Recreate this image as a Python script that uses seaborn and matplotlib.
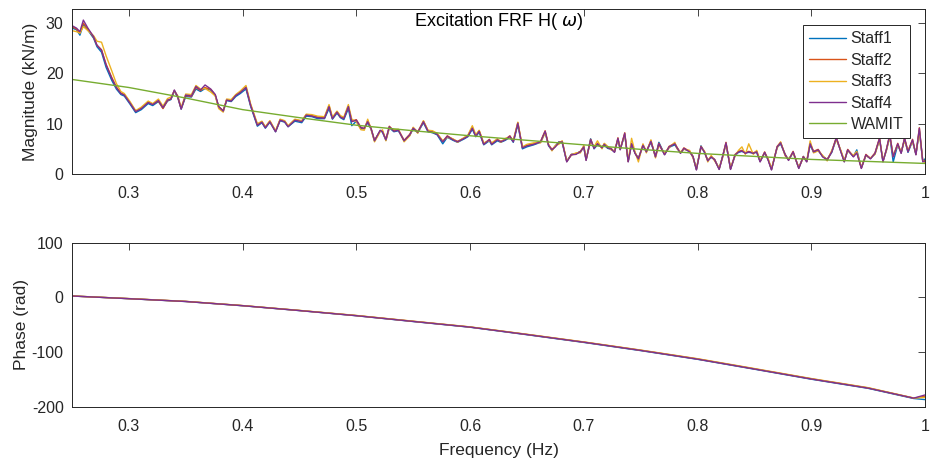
import numpy as np
import pandas as pd
import matplotlib
matplotlib.use("Agg")
import matplotlib.pyplot as plt
from matplotlib.lines import Line2D
import seaborn as sns

# ---------------- data ----------------
freq = [0.250,0.254,0.257,0.260,0.264,0.269,0.272,0.276,0.280,0.285,
        0.289,0.293,0.296,0.301,0.306,0.311,0.317,0.321,0.326,0.330,
        0.334,0.337,0.340,0.343,0.346,0.350,0.355,0.359,0.363,0.367,
        0.372,0.376,0.379,0.383,0.386,0.390,0.394,0.398,0.403,0.407,
        0.413,0.417,0.420,0.424,0.429,0.433,0.437,0.440,0.446,0.452,
        0.456,0.461,0.466,0.472,0.476,0.479,0.483,0.486,0.489,0.493,
        0.496,0.500,0.504,0.507,0.510,0.513,0.516,0.521,0.523,0.526,
        0.529,0.533,0.537,0.542,0.547,0.550,0.554,0.559,0.563,0.567,
        0.571,0.576,0.580,0.585,0.589,0.595,0.598,0.602,0.605,0.608,
        0.612,0.617,0.619,0.624,0.627,0.631,0.635,0.638,0.642,0.646,
        0.650,0.656,0.662,0.666,0.669,0.672,0.675,0.678,0.681,0.685,
        0.689,0.693,0.697,0.700,0.702,0.706,0.709,0.712,0.716,0.718,
        0.721,0.724,0.727,0.730,0.732,0.736,0.739,0.742,0.745,0.748,
        0.752,0.755,0.759,0.763,0.766,0.771,0.775,0.780,0.782,0.785,
        0.788,0.793,0.796,0.799,0.803,0.806,0.809,0.812,0.815,0.819,
        0.822,0.825,0.829,0.833,0.836,0.839,0.842,0.845,0.849,0.852,
        0.855,0.859,0.862,0.865,0.870,0.873,0.877,0.880,0.884,0.889,
        0.893,0.896,0.899,0.902,0.906,0.910,0.914,0.918,0.922,0.926,
        0.929,0.932,0.937,0.940,0.944,0.948,0.952,0.956,0.960,0.963,
        0.966,0.969,0.972,0.976,0.979,0.982,0.985,0.989,0.992,0.995,
        0.998,1.000]

staff1_mag = [29.0,28.7,27.6,29.8,28.6,27.0,25.3,24.2,21.2,18.6,
              16.9,15.8,15.5,13.9,12.2,12.8,14.0,13.6,14.4,13.1,
              14.5,14.8,16.5,15.2,12.9,15.4,15.3,16.9,16.4,17.0,
              16.7,15.6,13.3,12.5,14.6,14.4,15.4,16.0,16.9,13.5,
              9.5,10.2,9.1,10.3,8.4,10.6,10.3,9.4,10.5,10.2,
              11.5,11.4,11.0,11.0,13.0,10.9,12.1,11.2,10.8,13.0,
              9.6,10.5,9.0,9.0,10.2,8.9,6.6,8.6,8.3,6.7,
              9.2,8.4,8.6,6.6,7.7,9.0,8.2,10.2,8.4,8.2,
              7.8,6.0,7.3,6.7,6.3,7.0,7.4,8.9,7.4,8.3,
              5.8,6.6,5.8,6.6,6.3,6.7,7.3,6.3,9.8,5.0,
              5.4,5.8,6.3,8.3,5.6,4.7,5.6,6.4,6.2,2.5,
              3.9,4.0,4.5,5.3,2.8,7.0,5.0,5.8,5.3,5.7,
              5.1,4.9,4.4,6.9,4.9,7.8,2.5,5.9,4.2,3.1,
              5.6,4.5,6.3,3.5,6.3,3.9,5.3,5.8,5.1,4.2,
              5.0,4.5,3.5,0.9,5.6,4.3,2.7,3.3,2.9,1.0,
              3.5,6.0,1.0,3.7,4.3,4.5,4.2,4.3,4.2,4.3,
              2.5,4.2,2.9,0.9,5.3,6.0,3.9,2.8,4.3,1.2,
              3.5,2.5,5.8,4.3,4.7,3.5,2.9,4.3,7.0,4.5,
              2.5,4.7,3.5,4.8,1.2,3.7,3.1,4.0,6.9,2.5,
              4.7,7.5,2.4,5.8,4.2,6.9,4.3,6.5,3.9,8.6,
              2.6,3.0]

staff2_mag = [29.3,28.8,28.0,30.0,28.8,27.2,25.6,24.7,21.8,19.2,
              17.3,16.1,15.8,14.2,12.5,13.1,14.3,13.9,14.5,13.0,
              14.6,14.9,16.6,15.3,13.0,15.6,15.4,17.2,16.6,17.2,
              16.8,15.7,13.4,12.6,14.8,14.6,15.7,16.3,17.3,13.8,
              9.8,10.4,9.3,10.5,8.5,10.8,10.5,9.5,10.8,10.5,
              11.8,11.6,11.3,11.2,13.6,11.1,12.4,11.4,11.1,13.5,
              10.5,10.8,9.3,9.0,10.6,9.1,6.7,8.6,8.5,6.9,
              9.5,8.6,8.8,6.7,7.9,9.2,8.4,10.5,8.6,8.4,
              8.0,6.5,7.6,6.9,6.5,7.2,7.6,9.3,7.6,8.6,
              6.0,6.9,6.0,6.9,6.5,6.9,7.6,6.5,10.2,5.3,
              5.7,6.0,6.5,8.6,5.8,4.9,5.5,6.3,6.5,2.5,
              3.9,4.0,4.5,5.5,2.8,6.9,5.2,6.1,5.3,6.0,
              5.3,5.1,4.4,7.2,4.9,8.2,2.5,6.1,4.2,3.1,
              5.8,4.5,6.6,3.5,6.1,3.9,5.5,6.1,5.3,4.2,
              5.2,4.5,3.5,0.9,5.5,4.5,2.7,3.5,2.9,1.0,
              3.5,6.3,1.0,3.9,4.5,4.7,4.2,4.5,4.2,4.5,
              2.5,4.4,2.9,0.9,5.5,6.3,3.9,2.8,4.5,1.2,
              3.5,2.5,6.1,4.5,4.9,3.5,2.9,4.5,7.3,4.5,
              2.5,4.9,3.5,4.3,1.2,3.9,3.1,4.2,7.2,2.5,
              4.9,7.9,3.5,6.1,4.2,7.2,4.5,6.9,3.9,9.2,
              2.5,2.7]

staff3_mag = [28.5,28.3,28.0,29.3,28.5,27.5,26.4,26.2,23.5,20.5,
              18.0,16.4,16.0,14.4,12.6,13.3,14.5,14.0,14.9,13.5,
              15.0,15.3,16.5,15.6,13.2,15.9,15.8,17.6,16.9,17.0,
              16.3,15.5,13.0,12.3,14.9,14.8,15.8,16.5,17.6,14.0,
              10.0,10.5,9.4,10.6,8.6,10.9,10.6,9.6,10.9,10.6,
              11.9,11.8,11.5,11.4,13.8,11.3,12.5,11.6,11.3,13.8,
              10.9,10.4,8.8,8.7,10.9,8.8,6.4,8.4,8.8,6.6,
              9.1,8.8,8.9,6.4,7.6,9.3,8.1,10.6,8.7,8.6,
              8.1,6.6,7.3,7.0,6.3,7.3,7.7,9.6,7.8,8.7,
              6.2,6.6,6.2,7.0,6.3,7.1,7.3,6.7,10.3,5.4,
              5.9,6.2,6.2,8.2,5.9,4.6,5.7,5.9,6.6,2.6,
              3.7,4.2,4.2,5.7,2.9,6.5,5.4,6.6,5.0,6.1,
              5.5,4.8,4.6,6.8,5.0,7.8,2.6,7.1,4.4,2.4,
              6.0,4.2,6.8,3.2,5.7,4.1,5.2,6.3,5.0,4.4,
              4.9,4.7,3.2,1.1,5.2,4.6,2.4,3.7,2.6,1.2,
              3.2,6.0,1.2,3.6,4.7,5.4,3.9,6.0,3.9,4.7,
              2.7,4.1,3.1,1.1,5.2,6.4,3.6,2.9,4.2,1.3,
              3.2,2.6,6.6,4.2,4.6,3.7,2.6,4.7,6.8,4.7,
              2.7,4.6,3.7,4.5,1.3,3.6,3.2,3.9,6.8,2.7,
              4.6,7.4,3.7,5.7,4.4,6.6,4.7,6.4,4.1,8.4,
              2.7,2.2]

staff4_mag = [29.5,29.0,28.3,30.6,29.0,27.3,25.6,24.6,21.7,19.0,
              17.2,16.0,15.7,14.1,12.4,13.0,14.2,13.8,14.6,13.2,
              14.7,14.9,16.7,15.4,12.9,15.7,15.5,17.4,16.7,17.7,
              16.9,15.8,13.4,12.5,14.7,14.5,15.6,16.2,17.2,13.7,
              9.7,10.3,9.2,10.4,8.4,10.7,10.4,9.4,10.7,10.4,
              11.7,11.5,11.2,11.1,13.4,11.0,12.3,11.3,11.0,13.4,
              10.4,10.7,9.2,9.1,10.4,9.0,6.6,8.7,8.4,6.8,
              9.4,8.5,8.7,6.6,7.8,9.1,8.3,10.4,8.5,8.3,
              7.9,6.4,7.5,6.8,6.4,7.1,7.5,9.1,7.5,8.5,
              5.9,6.8,5.9,6.8,6.4,6.8,7.5,6.4,10.1,5.2,
              5.6,5.9,6.4,8.5,5.7,4.8,5.4,6.2,6.4,2.4,
              3.8,3.9,4.4,5.4,2.7,6.8,5.1,6.0,5.2,5.9,
              5.2,5.0,4.3,7.1,4.8,8.1,2.4,6.0,4.1,3.0,
              5.7,4.4,6.5,3.4,6.0,3.8,5.4,6.0,5.2,4.1,
              5.1,4.4,3.4,0.8,5.4,4.4,2.6,3.4,2.8,0.9,
              3.4,6.2,0.9,3.8,4.4,4.6,4.1,4.4,4.1,4.4,
              2.4,4.3,2.8,0.8,5.4,6.2,3.8,2.7,4.4,1.1,
              3.4,2.4,6.0,4.4,4.8,3.4,2.8,4.4,7.2,4.4,
              2.4,4.8,3.4,4.2,1.1,3.8,3.0,4.1,7.1,2.4,
              4.8,7.8,3.4,6.0,4.1,7.1,4.4,6.8,3.8,9.1,
              2.4,2.6]

wamit_freq = [0.25,0.30,0.35,0.40,0.45,0.50,0.55,0.60,0.65,0.70,0.75,0.80,0.85,0.90,0.95,1.00]
wamit_mag = [18.8,17.2,15.1,12.8,11.2,9.7,8.6,7.6,6.7,5.8,4.9,4.1,3.5,2.9,2.5,2.1]

phase_freq = [0.25,0.30,0.35,0.40,0.45,0.50,0.55,0.60,0.65,0.70,0.75,0.80,0.85,0.90,0.95,0.99,1.00]
staff1_phase = [2.5,-2.4,-7.6,-15.3,-24.2,-33.6,-44.2,-54.6,-68.3,-82.4,-97.4,-113.3,-131.4,-149.7,-166.4,-185.0,-187.0]
staff2_phase = [2.5,-2.3,-7.4,-15.1,-24.0,-33.3,-43.8,-54.2,-67.8,-81.8,-96.7,-112.6,-130.7,-148.9,-165.6,-184.3,-181.0]
staff3_phase = [2.6,-2.2,-7.3,-15.0,-23.8,-33.1,-43.6,-54.0,-67.5,-81.5,-96.4,-112.2,-130.2,-148.5,-165.2,-184.0,-183.0]
staff4_phase = [2.5,-2.4,-7.5,-15.2,-24.1,-33.5,-44.0,-54.4,-68.0,-82.0,-97.0,-113.0,-131.0,-149.3,-166.0,-184.3,-178.5]

series_names = ["Staff1", "Staff2", "Staff3", "Staff4", "WAMIT"]
colors = ["#0072BD", "#D95319", "#EDB120", "#7E2F8E", "#77AC30"]
x_ticks = [0.3, 0.4, 0.5, 0.6, 0.7, 0.8, 0.9, 1.0]
x_tick_labels = ["0.3", "0.4", "0.5", "0.6", "0.7", "0.8", "0.9", "1"]
mag_ticks = [0, 10, 20, 30]
phase_ticks = [-200, -100, 0, 100]

# ---------------- frames ----------------
mag_frames = []
for name, vals in zip(series_names[:4], [staff1_mag, staff2_mag, staff3_mag, staff4_mag]):
    mag_frames.append(pd.DataFrame({"freq": freq, "value": vals, "series": name}))
mag_frames.append(pd.DataFrame({"freq": wamit_freq, "value": wamit_mag, "series": "WAMIT"}))
df_mag = pd.concat(mag_frames, ignore_index=True)

ph_frames = []
for name, vals in zip(series_names[:4], [staff1_phase, staff2_phase, staff3_phase, staff4_phase]):
    ph_frames.append(pd.DataFrame({"freq": phase_freq, "value": vals, "series": name}))
df_ph = pd.concat(ph_frames, ignore_index=True)

# ---------------- style ----------------
sns.set_theme(style="white")
plt.rcParams["font.family"] = ["Liberation Sans", "DejaVu Sans"]
plt.rcParams["mathtext.fontset"] = "dejavusans"
plt.rcParams["axes.unicode_minus"] = False
axis_col = "#262626"
fs = 11.5
lab_fs = 12.5

fig = plt.figure(figsize=(9.31, 4.67), dpi=100)
ax1 = fig.add_axes([0.0773, 0.6274, 0.9163, 0.3533])
ax2 = fig.add_axes([0.0773, 0.1291, 0.9163, 0.3512])

pal = dict(zip(series_names, colors))
sns.lineplot(data=df_mag, x="freq", y="value", hue="series", hue_order=series_names,
             palette=pal, estimator=None, sort=False, linewidth=1.0, legend=False, ax=ax1)
sns.lineplot(data=df_ph, x="freq", y="value", hue="series", hue_order=series_names[:4],
             palette=pal, estimator=None, sort=False, linewidth=1.0, legend=False, ax=ax2)

for ax in (ax1, ax2):
    ax.set_xlim(0.25, 1.0)
    ax.set_xticks(x_ticks)
    ax.set_xticklabels(x_tick_labels)
    ax.tick_params(direction="in", top=True, right=True, length=5, width=0.6,
                   color=axis_col, labelcolor=axis_col, labelsize=fs)
    ax.tick_params(axis="x", pad=8.5)
    ax.tick_params(axis="y", pad=6)
    for sp in ax.spines.values():
        sp.set_visible(True)
        sp.set_color(axis_col)
        sp.set_linewidth(0.7)
    ax.set_facecolor("white")

ax1.set_ylim(0, 32.8)
ax1.set_yticks(mag_ticks)
ax1.set_xlabel("")
ax1.set_ylabel("Magnitude (kN/m)", fontsize=lab_fs, color=axis_col, labelpad=6)
ax1.text(0.5, 0.985, "Excitation FRF H( $\\omega$)", transform=ax1.transAxes,
         ha="center", va="top", fontsize=13, color="black")

ax2.set_ylim(-200, 100)
ax2.set_yticks(phase_ticks)
ax2.set_xlabel("Frequency (Hz)", fontsize=lab_fs, color=axis_col, labelpad=7)
ax2.set_ylabel("Phase (rad)", fontsize=lab_fs, color=axis_col, labelpad=2)

handles = [Line2D([], [], color=c, lw=1.0) for c in colors]
leg = ax1.legend(handles, series_names, loc="upper right", bbox_to_anchor=(0.982, 0.903),
                 bbox_transform=ax1.transAxes, borderaxespad=0, fontsize=fs,
                 frameon=True, fancybox=False, framealpha=1, edgecolor=axis_col,
                 handlelength=2.3, handletextpad=0.3, labelspacing=0.4, borderpad=0.4)
leg.get_frame().set_linewidth(0.7)

fig.savefig("out.png", dpi=100)
